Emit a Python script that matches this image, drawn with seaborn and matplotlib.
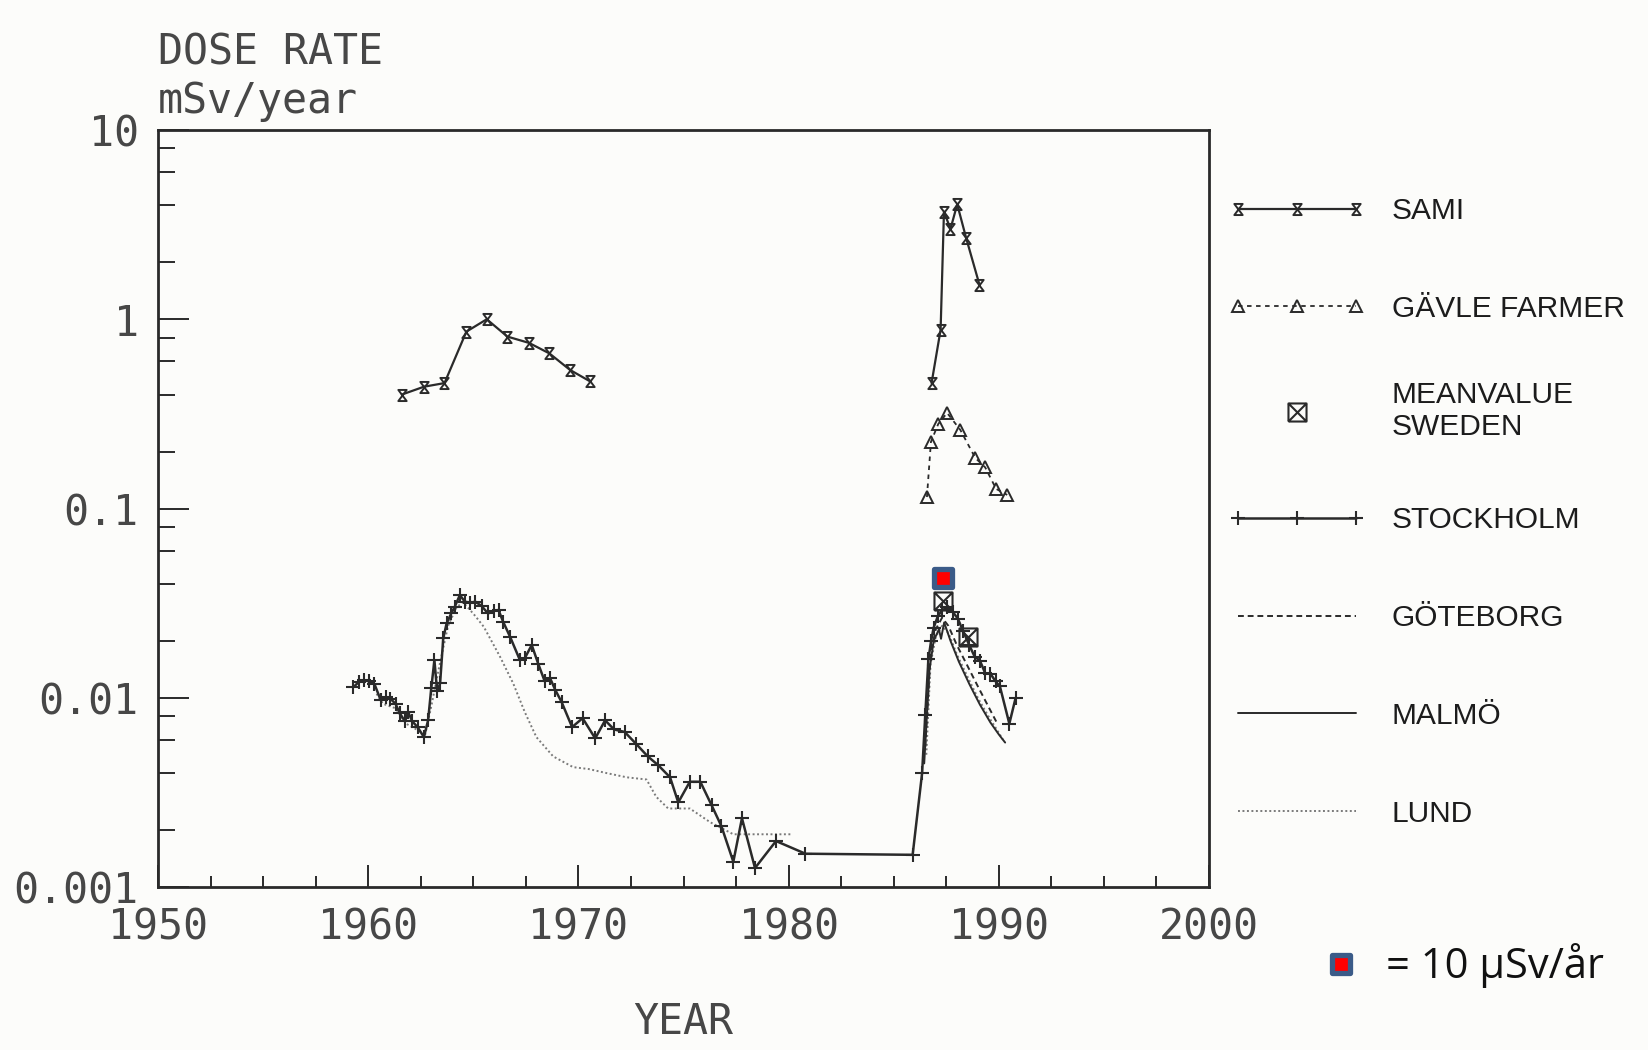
import matplotlib
matplotlib.use("Agg")
import matplotlib.pyplot as plt
from matplotlib.path import Path
from matplotlib.markers import MarkerStyle
from matplotlib.ticker import LogLocator, NullFormatter, MultipleLocator
from matplotlib import font_manager
import seaborn as sns

# ---------------------------------------------------------------- data
# Dose rate in mSv/year
sami_years_a = [1961.6, 1962.65, 1963.63, 1964.67, 1965.64, 1966.62, 1967.65, 1968.62, 1969.6, 1970.55]
sami_dose_a = [0.40, 0.44, 0.46, 0.86, 1.00, 0.81, 0.75, 0.66, 0.54, 0.47]
sami_years_b = [1986.8, 1987.23, 1987.39, 1987.7, 1988.02, 1988.44, 1989.08]
sami_dose_b = [0.46, 0.88, 3.7, 3.0, 4.05, 2.7, 1.52]

gavle_years = [1986.58, 1986.77, 1987.12, 1987.54, 1988.17, 1988.88, 1989.35, 1989.87, 1990.4]
gavle_dose = [0.115, 0.225, 0.28, 0.32, 0.26, 0.185, 0.165, 0.127, 0.118]

mean_years = [1987.33, 1988.51]
mean_dose = [0.0323, 0.0209]

stockholm_years = [
    1959.3, 1959.55, 1959.8, 1960.05, 1960.3, 1960.6, 1960.85, 1961.05, 1961.3, 1961.5,
    1961.75, 1961.9, 1962.1, 1962.35, 1962.65, 1962.85, 1963.0, 1963.15, 1963.28, 1963.42,
    1963.57, 1963.73, 1963.95, 1964.12, 1964.36, 1964.6, 1964.85, 1965.1, 1965.4, 1965.7,
    1966.0, 1966.2, 1966.42, 1966.75, 1967.22, 1967.45, 1967.78, 1968.1, 1968.4, 1968.65,
    1968.9, 1969.2, 1969.7, 1970.2, 1970.8, 1971.27, 1971.7, 1972.2, 1972.75, 1973.3,
    1973.8, 1974.36, 1974.75, 1975.3, 1975.8, 1976.34, 1976.8, 1977.37, 1977.78, 1978.4,
    1979.4, 1980.8, 1985.9, 1986.35, 1986.5, 1986.65, 1986.78, 1986.9, 1987.1, 1987.3,
    1987.55, 1987.8, 1988.05, 1988.3, 1988.6, 1988.85, 1989.1, 1989.35, 1989.6, 1989.85,
    1990.05, 1990.5, 1990.8,
]
stockholm_dose = [
    0.0114, 0.0121, 0.0124, 0.0122, 0.0118, 0.0097, 0.0101, 0.0099, 0.0093, 0.0083,
    0.0075, 0.0084, 0.0075, 0.0070, 0.0062, 0.0076, 0.0112, 0.0158, 0.0108, 0.0119,
    0.0206, 0.0247, 0.0279, 0.0303, 0.0349, 0.0322, 0.0318, 0.0322, 0.0305, 0.0279,
    0.0288, 0.0291, 0.0252, 0.0210, 0.0158, 0.0162, 0.0190, 0.0150, 0.0122, 0.0127,
    0.0110, 0.0095, 0.0070, 0.0078, 0.0061, 0.0076, 0.0068, 0.0066, 0.0057, 0.0049,
    0.0044, 0.0038, 0.0028, 0.0036, 0.0036, 0.0027, 0.0021, 0.00136, 0.00231, 0.00126,
    0.00175, 0.00150, 0.00148, 0.0040, 0.0081, 0.0160, 0.0200, 0.0235, 0.0270, 0.0290,
    0.0300, 0.0285, 0.0262, 0.0225, 0.0189, 0.0165, 0.0157, 0.0135, 0.0134, 0.0122,
    0.0115, 0.0073, 0.0100,
]

goteborg_years = [1986.5, 1986.75, 1987.0, 1987.3, 1987.6, 1988.0, 1988.5, 1989.0, 1989.5, 1989.9]
goteborg_dose = [0.0055, 0.0170, 0.0230, 0.0265, 0.0240, 0.0190, 0.0148, 0.0115, 0.0090, 0.0074]

malmo_years = [1986.45, 1986.7, 1986.9, 1987.15, 1987.25, 1987.4, 1987.7, 1988.1, 1988.6,
               1989.1, 1989.6, 1990.0, 1990.3]
malmo_dose = [0.0045, 0.0140, 0.0200, 0.0230, 0.0205, 0.0250, 0.0200, 0.0155, 0.0118,
              0.0092, 0.0074, 0.0064, 0.0058]

lund_years_a = [1960.4, 1960.7, 1961.3, 1961.8, 1962.3, 1962.7, 1963.0, 1963.4, 1963.8, 1964.2,
                1964.5, 1964.8, 1965.1, 1965.5, 1966.27, 1966.9, 1967.45, 1968.0, 1968.8, 1969.75,
                1970.5, 1971.34, 1972.3, 1973.24, 1973.7, 1974.27, 1975.3, 1976.27, 1977.37,
                1978.5, 1980.2]
lund_dose_a = [0.0105, 0.0093, 0.0088, 0.0073, 0.0068, 0.0063, 0.0090, 0.0150, 0.0240, 0.0300,
               0.0320, 0.0295, 0.0270, 0.0237, 0.0165, 0.0119, 0.0084, 0.0062, 0.0049, 0.0043,
               0.0042, 0.0040, 0.0038, 0.0037, 0.0030, 0.0026, 0.0026, 0.0022, 0.0019,
               0.0019, 0.0019]
lund_years_b = [1986.55, 1986.75, 1987.0, 1987.3, 1987.6, 1988.0, 1988.5, 1989.0, 1989.5, 1989.9, 1990.2]
lund_dose_b = [0.0050, 0.0150, 0.0210, 0.0240, 0.0220, 0.0170, 0.0130, 0.0100, 0.0080, 0.0068, 0.0060]

# unit symbol placed at the 1987 peak of the Swedish mean
unit_year = [1987.35]
unit_dose = [0.043]
unit_label = "= 10 µSv/år"

x_ticks = [1950, 1960, 1970, 1980, 1990, 2000]
x_tick_labels = ["1950", "1960", "1970", "1980", "1990", "2000"]
y_ticks = [0.001, 0.01, 0.1, 1, 10]
y_tick_labels = ["0.001", "0.01", "0.1", "1", "10"]

series_labels = ["SAMI", "GÄVLE FARMER", "MEANVALUE\nSWEDEN", "STOCKHOLM", "GÖTEBORG", "MALMÖ", "LUND"]

# ---------------------------------------------------------------- style
sns.set_theme(style="ticks")
installed = {f.name for f in font_manager.fontManager.ttflist}


def pick(*names):
    for n in names:
        if n in installed:
            return n
    return "DejaVu Sans"


PLOT_FONT = "DejaVu Sans Mono"
KEY_FONT = pick("Liberation Sans", "Arial", "DejaVu Sans")
NOTE_FONT = pick("Open Sans", "Noto Sans", "DejaVu Sans")
plt.rcParams["font.family"] = [KEY_FONT, "DejaVu Sans"]

INK = "#2a2a2a"
TEXT_INK = "#474747"
PAPER = "#fcfcfa"

# marker shapes
hourglass = MarkerStyle(Path([(-0.75, 1), (0.75, 1), (-0.75, -1), (0.75, -1), (-0.75, 1)],
                             [Path.MOVETO, Path.LINETO, Path.LINETO, Path.LINETO, Path.CLOSEPOLY]))
crossed_box = MarkerStyle(Path(
    [(-1, -1), (1, -1), (1, 1), (-1, 1), (-1, -1), (-1, -1), (1, 1), (-1, 1), (1, -1)],
    [Path.MOVETO, Path.LINETO, Path.LINETO, Path.LINETO, Path.LINETO,
     Path.MOVETO, Path.LINETO, Path.MOVETO, Path.LINETO]))
rounded_square = MarkerStyle("s", joinstyle="round")

fig = plt.figure(figsize=(16.49, 10.5), dpi=100, facecolor=PAPER)
ax = fig.add_axes([0.0958, 0.1552, 0.6374, 0.7210])
ax.set_facecolor(PAPER)


def draw(x, y, **kw):
    sns.lineplot(x=x, y=y, ax=ax, estimator=None, sort=False, legend=False, **kw)
    return ax.lines[-1]


# ---------------------------------------------------------------- series
h_lund = draw(lund_years_a, lund_dose_a, color="#7a7a7a", lw=1.4, linestyle=(0, (1, 1.3)))
draw(lund_years_b, lund_dose_b, color="#7a7a7a", lw=1.4, linestyle=(0, (1, 1.3)))
h_malmo = draw(malmo_years, malmo_dose, color=INK, lw=1.4)
h_gbg = draw(goteborg_years, goteborg_dose, color=INK, lw=1.4, linestyle=(0, (3, 2)))
h_sth = draw(stockholm_years, stockholm_dose, color=INK, lw=1.8, marker="+", markersize=10,
             mec=INK, mew=1.5)
h_sami = draw(sami_years_a, sami_dose_a, color=INK, lw=1.6, marker=hourglass, markersize=8,
              mec=INK, mfc="none", mew=1.4)
draw(sami_years_b, sami_dose_b, color=INK, lw=1.6, marker=hourglass, markersize=8,
     mec=INK, mfc="none", mew=1.4)
h_gavle = draw(gavle_years, gavle_dose, color=INK, lw=1.3, linestyle=(0, (2.5, 2.5)),
               marker="^", markersize=8, mec=INK, mfc="none", mew=1.4)
h_mean = draw(mean_years, mean_dose, color=INK, linestyle="none", marker=crossed_box,
              markersize=13, mec=INK, mfc="none", mew=1.5)
h_unit = draw(unit_year, unit_dose, linestyle="none", marker=rounded_square, markersize=12.5,
              mfc="#ff0000", mec="#3b5b88", mew=3.8, color="#3b5b88")

# ---------------------------------------------------------------- axes
ax.set_yscale("log")
ax.set_xlim(1950, 2000)
ax.set_ylim(0.001, 10)
ax.set_xticks(x_ticks, labels=x_tick_labels)
ax.xaxis.set_minor_locator(MultipleLocator(2.5))
ax.set_yticks(y_ticks, labels=y_tick_labels)
ax.yaxis.set_minor_locator(LogLocator(base=10, subs=(2, 4, 6, 8)))
ax.yaxis.set_minor_formatter(NullFormatter())
ax.tick_params(which="both", direction="in", top=False, right=False, color=INK, width=1.4,
               labelcolor=TEXT_INK, labelsize=30)
ax.tick_params(axis="x", which="major", length=16, pad=14)
ax.tick_params(axis="x", which="minor", length=8)
ax.tick_params(axis="y", which="major", length=22, pad=14)
ax.tick_params(axis="y", which="minor", length=12)
for lab in ax.get_xticklabels() + ax.get_yticklabels():
    lab.set_family(PLOT_FONT)
for side in ax.spines.values():
    side.set_visible(True)
    side.set_linewidth(2.0)
    side.set_color(INK)
ax.grid(False)

ax.set_xlabel("YEAR", family=PLOT_FONT, fontsize=30, color=TEXT_INK, labelpad=38)
ax.set_ylabel("")
ax.text(0.0, 1.086, "DOSE RATE", transform=ax.transAxes, ha="left", va="baseline",
        family=PLOT_FONT, fontsize=30, color=TEXT_INK)
ax.text(0.0, 1.022, "mSv/year", transform=ax.transAxes, ha="left", va="baseline",
        family=PLOT_FONT, fontsize=30, color=TEXT_INK)

# ---------------------------------------------------------------- keys
key_kw = dict(frameon=False, borderpad=0, borderaxespad=0, handlelength=4.54, handletextpad=0.9,
              labelspacing=2.34, prop=dict(family=KEY_FONT, size=21.5), labelcolor="#1c1c1c",
              loc="center left")
fig.legend([h_sami, h_gavle], series_labels[0:2], bbox_to_anchor=(0.7454, 1 - 260 / 1050),
           numpoints=3, **key_kw)
fig.legend([h_mean], series_labels[2:3], bbox_to_anchor=(0.7454, 1 - 411 / 1050),
           numpoints=1, **key_kw)
fig.legend([h_sth, h_gbg, h_malmo, h_lund], series_labels[3:], bbox_to_anchor=(0.7454, 1 - 667 / 1050),
           numpoints=3, **key_kw)
fig.legend([h_unit], [unit_label], bbox_to_anchor=(0.8029, 1 - 966 / 1050), loc="center left",
           frameon=False, borderpad=0, borderaxespad=0, handlelength=0.8, handletextpad=0.68,
           numpoints=1, prop=dict(family=NOTE_FONT, size=30), labelcolor="#111111")

fig.savefig("out.png", dpi=100, facecolor=PAPER)
